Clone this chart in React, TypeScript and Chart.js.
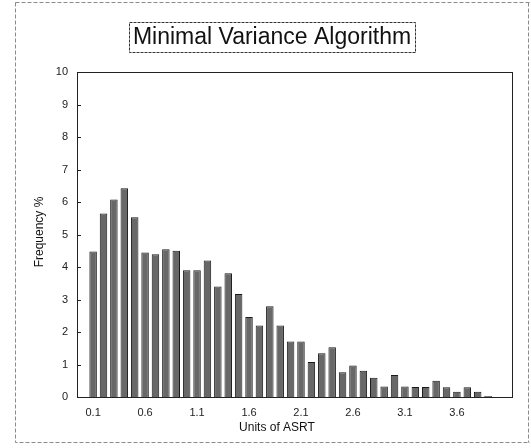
import React, { useEffect, useRef } from "react";
import { Chart, registerables } from "chart.js";

Chart.register(...registerables);

const TITLE = "Minimal Variance Algorithm";
const X_TITLE = "Units of ASRT";
const Y_TITLE = "Frequency %";

const binCenters = [
  0.1, 0.2, 0.3, 0.4, 0.5, 0.6, 0.7, 0.8, 0.9, 1.0,
  1.1, 1.2, 1.3, 1.4, 1.5, 1.6, 1.7, 1.8, 1.9, 2.0,
  2.1, 2.2, 2.3, 2.4, 2.5, 2.6, 2.7, 2.8, 2.9, 3.0,
  3.1, 3.2, 3.3, 3.4, 3.5, 3.6, 3.7, 3.8, 3.9,
];

const frequency = [
  4.48, 5.65, 6.08, 6.42, 5.53, 4.45, 4.39, 4.55, 4.5, 3.9,
  3.9, 4.2, 3.4, 3.81, 3.17, 2.46, 2.2, 2.79, 2.2, 1.71,
  1.71, 1.08, 1.35, 1.53, 0.76, 0.97, 0.81, 0.59, 0.32, 0.68,
  0.32, 0.31, 0.31, 0.5, 0.3, 0.16, 0.3, 0.16, 0.03,
];

const xTickValues = [0.1, 0.6, 1.1, 1.6, 2.1, 2.6, 3.1, 3.6];
const yTickValues = [0, 1, 2, 3, 4, 5, 6, 7, 8, 9, 10];

const FONT = "'Liberation Sans', Arial, Helvetica, sans-serif";

const decorPlugin = {
  id: "decor",
  afterDraw(chart: any) {
    const ctx = chart.ctx;
    const a = chart.chartArea;
    ctx.save();
    // outer dashed frame
    ctx.strokeStyle = "#8a8a8a";
    ctx.lineWidth = 1;
    ctx.setLineDash([4, 2]);
    ctx.beginPath();
    ctx.moveTo(15.5, 2.5);
    ctx.lineTo(530, 2.5);
    ctx.moveTo(15.5, 2.5);
    ctx.lineTo(15.5, 442.5);
    ctx.lineTo(530, 442.5);
    ctx.moveTo(528.5, 2.5);
    ctx.lineTo(528.5, 442.5);
    ctx.stroke();

    // title
    ctx.setLineDash([]);
    ctx.font = `23px ${FONT}`;
    ctx.fillStyle = "#111";
    ctx.textAlign = "center";
    ctx.textBaseline = "middle";
    const cx = 272;
    ctx.fillText(TITLE, cx, 38);
    const w = ctx.measureText(TITLE).width;
    ctx.strokeStyle = "#333";
    ctx.setLineDash([3, 1]);
    ctx.strokeRect(Math.round(cx - w / 2 - 4) + 0.5, 22.5, Math.round(w + 8), 30);
    ctx.setLineDash([]);

    // plot frame
    ctx.strokeStyle = "#222";
    ctx.lineWidth = 1;
    ctx.strokeRect(Math.round(a.left) + 0.5, Math.round(a.top) + 0.5, Math.round(a.right - a.left), Math.round(a.bottom - a.top));

    // inner y ticks
    const ys = chart.scales.y;
    ctx.beginPath();
    yTickValues.forEach((v) => {
      const py = Math.round(ys.getPixelForValue(v)) + 0.5;
      ctx.moveTo(a.left, py);
      ctx.lineTo(a.left + 4, py);
    });
    ctx.stroke();

    // axis titles
    ctx.fillStyle = "#111";
    ctx.font = `12px ${FONT}`;
    ctx.textAlign = "center";
    ctx.textBaseline = "middle";
    ctx.fillText(X_TITLE, 277, 428);
    ctx.save();
    ctx.translate(40, 232);
    ctx.rotate(-Math.PI / 2);
    ctx.fillText(Y_TITLE, 0, 0);
    ctx.restore();
    ctx.restore();
  },
};

export default function App() {
  const ref = useRef<HTMLCanvasElement | null>(null);
  useEffect(() => {
    if (!ref.current) return;
    const chart = new Chart(ref.current, {
      type: "bar",
      data: {
        datasets: [
          {
            data: binCenters.map((x, i) => ({ x, y: frequency[i] })),
            backgroundColor: "#686868",
            borderColor: "#1a1a1a",
            borderWidth: 1,
            barPercentage: 0.72,
            categoryPercentage: 1,
          },
        ],
      },
      options: {
        animation: false,
        responsive: false,
        maintainAspectRatio: false,
        layout: { padding: { left: 0, top: 72, right: 19, bottom: 0 } },
        plugins: {
          legend: { display: false },
          title: { display: false },
          tooltip: { enabled: false },
        },
        scales: {
          x: {
            type: "linear",
            offset: false,
            min: -0.055,
            max: 4.13,
            grid: { display: false, drawTicks: false, offset: false },
            border: { display: true, color: "#222" },
            afterBuildTicks: (scale: any) => {
              scale.ticks = xTickValues.map((v) => ({ value: v }));
            },
            afterFit: (scale: any) => {
              scale.height = 51;
            },
            ticks: {
              padding: 9,
              autoSkip: false,
              maxRotation: 0,
              color: "#222",
              font: { family: FONT, size: 11 },
              callback: (v: any) => Number(v).toFixed(1),
            },
          },
          y: {
            min: 0,
            max: 10,
            grid: { display: false, drawTicks: false },
            border: { display: true, color: "#222" },
            afterFit: (scale: any) => {
              scale.width = 77;
            },
            afterBuildTicks: (scale: any) => {
              scale.ticks = yTickValues.map((v) => ({ value: v }));
            },
            ticks: {
              padding: 9,
              color: "#222",
              font: { family: FONT, size: 11 },
            },
          },
        },
      },
      plugins: [decorPlugin],
    });
    return () => chart.destroy();
  }, []);
  return (
    <div style={{ position: "fixed", left: 0, top: 0, width: 531, height: 448, background: "#fff" }}>
      <canvas ref={ref} width={531} height={448} style={{ display: "block" }} />
    </div>
  );
}
